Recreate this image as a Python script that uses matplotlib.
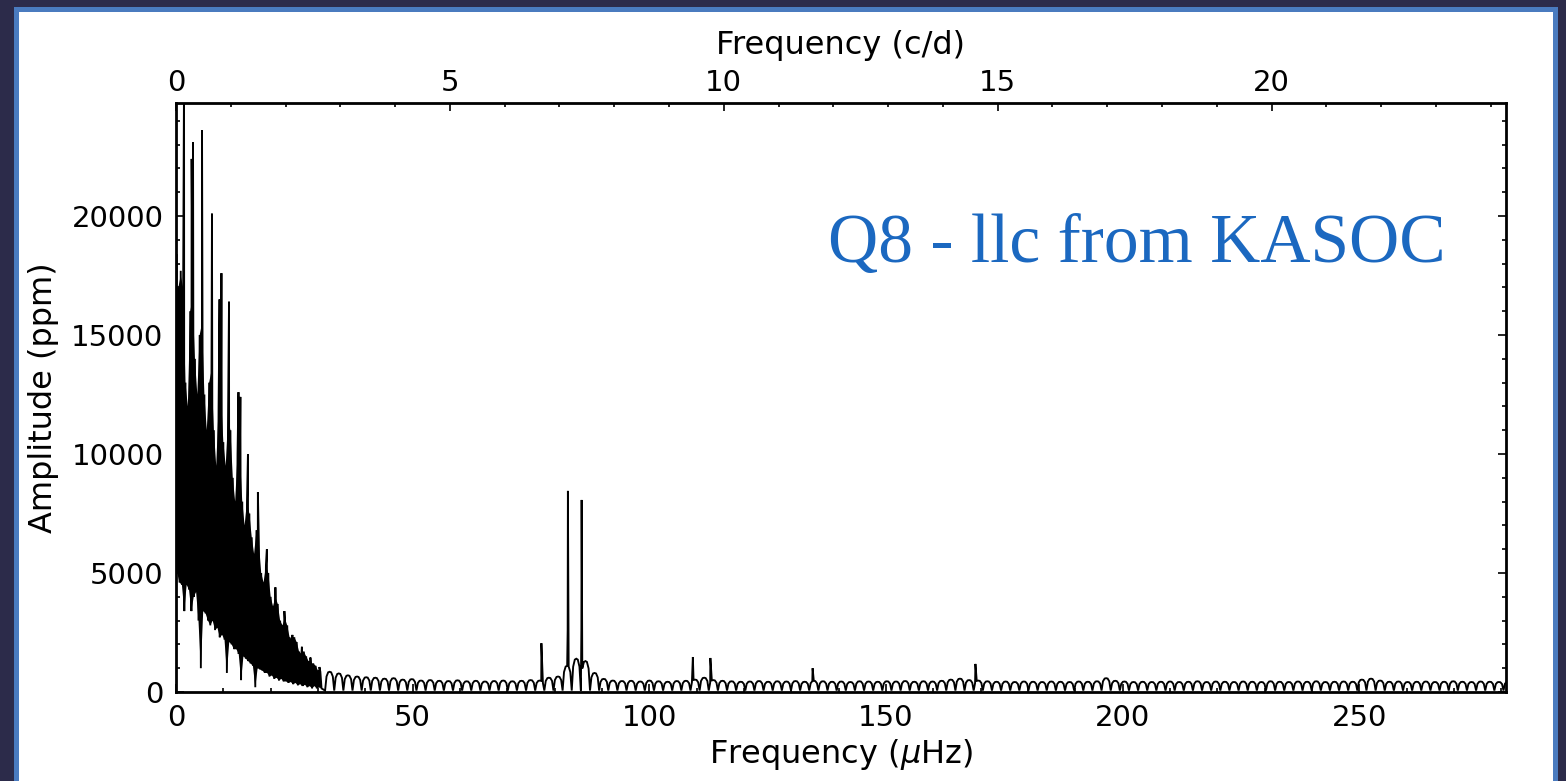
import numpy as np
import matplotlib
matplotlib.use("Agg")
import matplotlib.pyplot as plt
from matplotlib.patches import Rectangle
from matplotlib.ticker import MultipleLocator

# ---------------- data ----------------
# strong low-frequency comb spikes (muHz, ppm)
comb_freq = [0.1, 1.0, 1.7, 3.3, 3.6, 5.5, 7.6, 9.2, 9.6, 11.2, 13.2, 13.6,
             15.2, 17.3, 19.2, 21.0, 22.9, 24.6, 26.6, 28.4, 30.3]
comb_amp = [18400, 17700, 26000, 22400, 23100, 23600, 20100, 16500, 17600,
            16400, 12600, 12400, 10000, 8400, 6000, 4400, 3400, 2400, 1900,
            1450, 1050]

# dense low-frequency body, sampled every 0.5 muHz from 0 to 30.5:
# local maxima (body_upper) and local minima a quarter step later (body_lower)
body_step = 0.5
body_upper = [16000, 17000, 17500, 17000, 13000, 12000, 16000, 16500, 14000, 12500,
              15000, 15500, 12500, 11000, 13000, 13500, 11000, 9500, 12000, 12500,
              10500, 9500, 11500, 11000, 9000, 8000, 10000, 10000, 8000, 7000,
              8000, 7500, 6500, 5800, 6800, 6300, 5000, 4600, 5300, 5000,
              4000, 3600, 4000, 3700, 3000, 2800, 3100, 2800, 2300, 2200,
              2300, 2100, 1700, 1600, 1700, 1500, 1300, 1200, 1200, 1100,
              900, 850]
body_lower = [5000, 4600, 4500, 3400, 4500, 4300, 3400, 4000, 4200, 3000,
              1000, 3400, 3300, 3000, 2800, 3000, 2600, 2700, 2300, 2400,
              2200, 800, 2100, 2000, 1800, 1800, 1600, 500, 1500, 1400,
              1300, 1200, 1100, 200, 1000, 950, 900, 800, 800, 650,
              700, 550, 600, 480, 550, 450, 450, 380, 420, 330,
              380, 280, 330, 250, 300, 200, 250, 150, 250, 150,
              200, 150]

# noise-floor arches from 31.5 muHz, one every 1.93 muHz (peak heights, ppm)
floor_start = 31.5
floor_step = 1.93
floor_trough = 60
floor_peaks = [850, 780, 700, 650, 620, 600, 560, 580, 520, 540,
               480, 500, 470, 460, 490, 450, 470, 440, 460, 480,
               450, 470, 500, 480, 600, 650, 1100, 1400, 1300, 800,
               550, 480, 460, 470, 440, 480, 450, 430, 460, 470,
               520, 600, 500, 470, 450, 430, 440, 460, 430, 450,
               440, 460, 430, 470, 450, 430, 440, 420, 450, 440,
               430, 450, 440, 460, 430, 450, 440, 470, 520, 560,
               500, 480, 450, 430, 440, 420, 440, 430, 420, 440,
               430, 420, 440, 430, 450, 580, 470, 440, 420, 430,
               420, 430, 440, 420, 430, 450, 420, 440, 430, 420,
               440, 430, 420, 450, 430, 420, 440, 430, 450, 420,
               430, 440, 430, 520, 560, 480, 430, 440, 420, 430,
               440, 420, 430, 450, 430, 420, 440, 430, 420, 440]

# isolated narrow peaks (muHz, ppm)
line_freq = [77.2, 82.75, 82.8, 85.65, 85.7, 109.2, 112.9, 134.5, 168.9]
line_amp = [2050, 2600, 8450, 2700, 8070, 1470, 1430, 1000, 1180]

x_max = 281.0
y_max = 24750
muhz_to_cd = 0.0864

# ---------------- assemble the spectrum trace ----------------
body_f = [i * body_step for i in range(len(body_upper))]
body_f_low = [f + body_step / 2 for f in body_f]

fx, fy = [], []
for f, fl, u, l in zip(body_f, body_f_low, body_upper, body_lower):
    fx += [f, fl]
    fy += [u, l]
arch_profile = [(0.0, 0.0), (0.30, 0.75), (0.65, 0.97), (0.965, 1.0),
                (1.28, 0.97), (1.63, 0.75)]
for k, h in enumerate(floor_peaks):
    f0 = floor_start + k * floor_step
    for d, p in arch_profile:
        fx.append(f0 + d)
        fy.append(floor_trough + (h - floor_trough) * p)
fx += list(comb_freq) + list(line_freq)
fy += list(comb_amp) + list(line_amp)
order = np.argsort(fx, kind="stable")
fx = np.asarray(fx)[order]
fy = np.asarray(fy)[order]

# ---------------- figure ----------------
W, H = 1566, 781
fig = plt.figure(figsize=(W / 100, H / 100), dpi=100, facecolor="#2c2b4a")
fig.add_artist(Rectangle((14 / W, 0), (1558 - 14) / W, (781 - 7) / H,
                         transform=fig.transFigure, facecolor="#4a7bbf",
                         edgecolor="none", zorder=-10))
fig.add_artist(Rectangle((19 / W, 0), (1553 - 19) / W, (781 - 12) / H,
                         transform=fig.transFigure, facecolor="white",
                         edgecolor="none", zorder=-9))

ax = fig.add_axes([176 / W, (H - 692) / H, (1506 - 176) / W, (692 - 103) / H])
ax.set_facecolor("white")
# dense unresolved body between the local-max and local-min envelopes
ax.fill(body_f + body_f_low[::-1], body_upper + body_lower[::-1],
        color="black", lw=0)
ax.plot(fx, fy, color="black", lw=1.35, solid_joinstyle="miter")
ax.set_xlim(0, x_max)
ax.set_ylim(0, y_max)

fs_tick = 21
fs_lab = 23
ax.xaxis.set_major_locator(MultipleLocator(50))
ax.xaxis.set_minor_locator(MultipleLocator(10))
ax.yaxis.set_major_locator(MultipleLocator(5000))
ax.yaxis.set_minor_locator(MultipleLocator(1000))
ax.tick_params(which="both", direction="in", top=False, right=True,
               width=1.2, labelsize=fs_tick, pad=9)
ax.tick_params(which="major", length=6)
ax.tick_params(which="minor", length=3)
for s in ax.spines.values():
    s.set_linewidth(2.0)

ax.set_xlabel(r"Frequency ($\mu$Hz)", fontsize=fs_lab, labelpad=3)
ax.set_ylabel("Amplitude (ppm)", fontsize=fs_lab, labelpad=9)

top = ax.secondary_xaxis("top", functions=(lambda f: f * muhz_to_cd,
                                           lambda c: c / muhz_to_cd))
top.xaxis.set_major_locator(MultipleLocator(5))
top.xaxis.set_minor_locator(MultipleLocator(1))
top.tick_params(which="both", direction="in", width=1.2, labelsize=fs_tick, pad=4)
top.tick_params(which="major", length=6)
top.tick_params(which="minor", length=3)
top.set_xlabel("Frequency (c/d)", fontsize=fs_lab, labelpad=11)

ax.text(0.490, 0.730, "Q8 - llc from KASOC", transform=ax.transAxes,
        fontsize=50, family="Liberation Serif", color="#1b68c0",
        va="baseline", ha="left")

fig.savefig("out.png", dpi=100, facecolor=fig.get_facecolor())
